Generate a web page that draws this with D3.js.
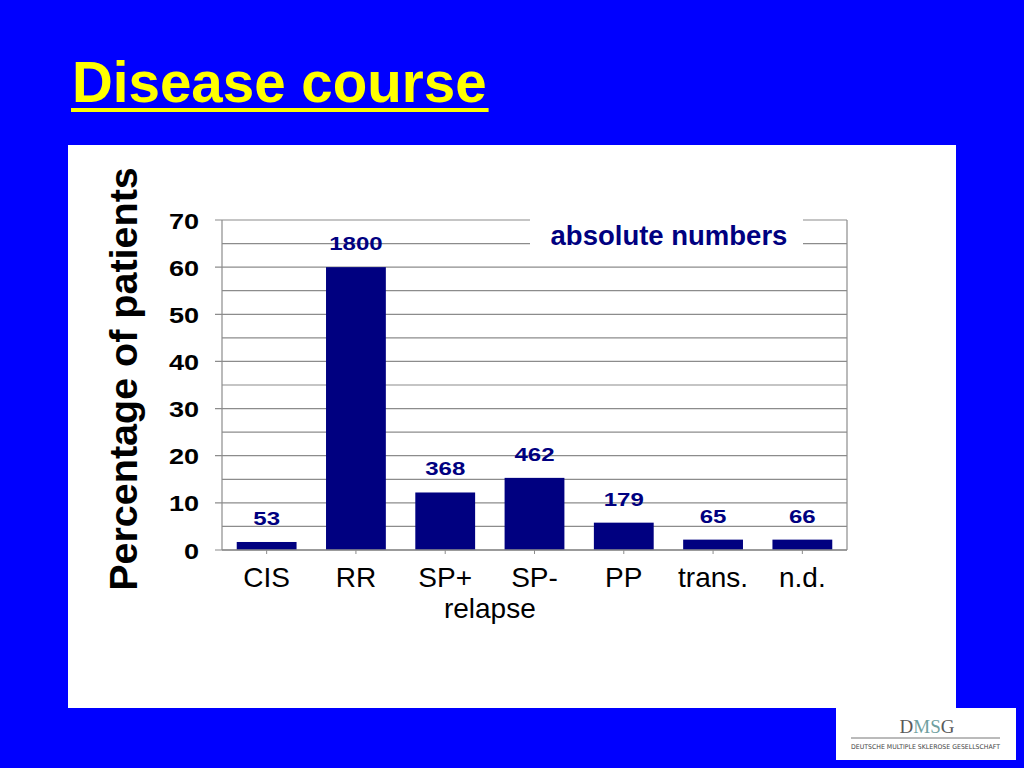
<!DOCTYPE html>
<html>
<head>
<meta charset="utf-8">
<script src="https://cdn.jsdelivr.net/npm/d3@7/dist/d3.min.js"></script>
<style>
  html, body { margin: 0; padding: 0; background: #0000ff; }
  svg { display: block; }
</style>
</head>
<body>
<svg id="chart" width="1024" height="768"></svg>
<script>
// ---- data ----
const categories = ["CIS", "RR", "SP+", "SP-", "PP", "trans.", "n.d."];
const percentages = [1.7, 60.0, 12.2, 15.3, 5.8, 2.2, 2.2];
const absoluteNumbers = [53, 1800, 368, 462, 179, 65, 66];
const yTickValues = [0, 10, 20, 30, 40, 50, 60, 70];
const gridValues = [0, 5, 10, 15, 20, 25, 30, 35, 40, 45, 50, 55, 60, 65, 70];
const titleText = "Disease course";
const yAxisTitle = "Percentage of patients";
const legendText = "absolute numbers";
const subLabel = "relapse";

const rows = categories.map((c, i) => ({ cat: c, pct: percentages[i], n: absoluteNumbers[i] }));

// ---- layout ----
const svg = d3.select("#chart");
const W = 1024, H = 768;
const plot = { left: 222, right: 847, top: 220, bottom: 550 };
const navy = "#000080";
const gridColor = "#8c8c8c";
const arial = "'Liberation Sans', Arial, Helvetica, sans-serif";

svg.append("rect").attr("width", W).attr("height", H).attr("fill", "#0000ff");

// white panel
svg.append("rect").attr("x", 68).attr("y", 145).attr("width", 888).attr("height", 563).attr("fill", "#ffffff");

// title
const title = svg.append("text")
  .attr("x", 72).attr("y", 102)
  .attr("font-family", arial).attr("font-weight", "bold").attr("font-size", 56.5)
  .attr("fill", "#ffff00")
  .text(titleText);
const tl = title.node().getComputedTextLength();
svg.append("rect").attr("x", 71).attr("y", 108).attr("width", tl + 3).attr("height", 4).attr("fill", "#ffff00");

// scales
const x = d3.scaleBand().domain(categories).range([plot.left, plot.right]).paddingInner(0.33).paddingOuter(0.165);
const y = d3.scaleLinear().domain([0, 70]).range([plot.bottom, plot.top]);

// gridlines
const g = svg.append("g");
g.selectAll("line.grid").data(gridValues).join("line")
  .attr("class", "grid")
  .attr("x1", d => (d % 10 === 0 ? plot.left - 7 : plot.left))
  .attr("x2", plot.right)
  .attr("y1", d => y(d)).attr("y2", d => y(d))
  .attr("stroke", gridColor).attr("stroke-width", 1.2);

// frame lines
g.append("line").attr("x1", plot.left).attr("x2", plot.left).attr("y1", plot.top).attr("y2", plot.bottom)
  .attr("stroke", gridColor).attr("stroke-width", 1.2);
g.append("line").attr("x1", plot.right).attr("x2", plot.right).attr("y1", plot.top).attr("y2", plot.bottom)
  .attr("stroke", gridColor).attr("stroke-width", 1.2);

// category ticks
g.selectAll("line.ctick").data(categories).join("line")
  .attr("class", "ctick")
  .attr("x1", d => x(d) + x.bandwidth() / 2).attr("x2", d => x(d) + x.bandwidth() / 2)
  .attr("y1", plot.bottom).attr("y2", plot.bottom + 4)
  .attr("stroke", gridColor).attr("stroke-width", 1);

// legend box (covers gridlines)
svg.append("rect").attr("x", 530).attr("y", 213).attr("width", 273).attr("height", 44).attr("fill", "#ffffff");
svg.append("text")
  .attr("x", 669).attr("y", 245)
  .attr("text-anchor", "middle")
  .attr("font-family", arial).attr("font-weight", "bold").attr("font-size", 27.5)
  .attr("fill", navy)
  .text(legendText);

// bars
svg.selectAll("rect.bar").data(rows).join("rect")
  .attr("class", "bar")
  .attr("x", d => x(d.cat))
  .attr("width", x.bandwidth())
  .attr("y", d => y(d.pct))
  .attr("height", d => y(0) - y(d.pct))
  .attr("fill", navy);

// bottom axis line
svg.append("line").attr("x1", plot.left).attr("x2", plot.right).attr("y1", plot.bottom).attr("y2", plot.bottom)
  .attr("stroke", gridColor).attr("stroke-width", 1.4);

// value labels (wide bold digits)
svg.selectAll("text.val").data(rows).join("text")
  .attr("class", "val")
  .attr("transform", d => `translate(${x(d.cat) + x.bandwidth() / 2},${y(d.pct) - 17}) scale(1.3,1)`)
  .attr("text-anchor", "middle")
  .attr("font-family", arial).attr("font-weight", "bold").attr("font-size", 18.5)
  .attr("fill", navy)
  .text(d => d.n);

// y tick labels
svg.selectAll("text.ytick").data(yTickValues).join("text")
  .attr("class", "ytick")
  .attr("transform", d => `translate(199,${y(d) + 8.5}) scale(1.23,1)`)
  .attr("text-anchor", "end")
  .attr("font-family", arial).attr("font-weight", "bold").attr("font-size", 22)
  .attr("fill", "#000")
  .text(d => d);

// category labels
svg.selectAll("text.cat").data(categories).join("text")
  .attr("class", "cat")
  .attr("x", d => x(d) + x.bandwidth() / 2)
  .attr("y", 587)
  .attr("text-anchor", "middle")
  .attr("font-family", arial).attr("font-size", 28)
  .attr("fill", "#000")
  .text(d => d);

svg.append("text")
  .attr("x", (x("SP+") + x("SP-") + x.bandwidth()) / 2)
  .attr("y", 618)
  .attr("text-anchor", "middle")
  .attr("font-family", arial).attr("font-size", 28)
  .attr("fill", "#000")
  .text(subLabel);

// y axis title
svg.append("text")
  .attr("transform", "translate(137,379) rotate(-90)")
  .attr("text-anchor", "middle")
  .attr("font-family", arial).attr("font-weight", "bold").attr("font-size", 39.5)
  .attr("fill", "#000")
  .text(yAxisTitle);

// DMSG logo
const logo = svg.append("g");
logo.append("rect").attr("x", 836).attr("y", 708).attr("width", 180).attr("height", 52).attr("fill", "#ffffff");
const lt = logo.append("text")
  .attr("x", 927).attr("y", 733)
  .attr("text-anchor", "middle")
  .attr("font-family", "'Liberation Serif', 'DejaVu Serif', serif").attr("font-size", 19)
  .attr("fill", "#5a5a5a");
lt.append("tspan").text("D");
lt.append("tspan").attr("fill", "#6f9fa0").text("MS");
lt.append("tspan").text("G");
logo.append("line").attr("x1", 851).attr("x2", 1000).attr("y1", 738).attr("y2", 738)
  .attr("stroke", "#777").attr("stroke-width", 1);
logo.append("text")
  .attr("x", 851).attr("y", 749)
  .attr("textLength", 149).attr("lengthAdjust", "spacingAndGlyphs")
  .attr("font-family", "'DejaVu Sans Condensed', 'DejaVu Sans', sans-serif").attr("font-size", 6.5)
  .attr("fill", "#444")
  .text("DEUTSCHE MULTIPLE SKLEROSE GESELLSCHAFT");
</script>
</body>
</html>
